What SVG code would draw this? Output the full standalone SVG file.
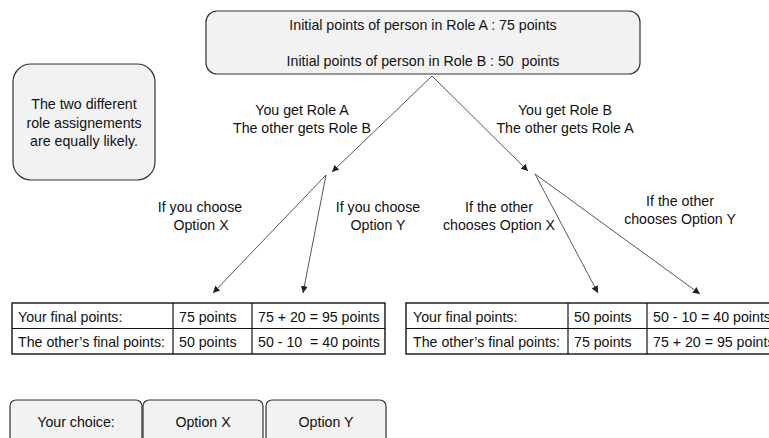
<svg xmlns="http://www.w3.org/2000/svg" width="769" height="438" viewBox="0 0 769 438">
<defs>
<marker id="ah" viewBox="0 0 10 10" refX="10" refY="5" markerWidth="7" markerHeight="7" markerUnits="userSpaceOnUse" orient="auto">
<path d="M0,0 L10,5 L0,10 z" fill="#222"/>
</marker>
<style>
text{font-family:"Liberation Sans",Arial,sans-serif;font-size:14.2px;fill:#111;white-space:pre}
.c{text-anchor:middle}
.box{fill:#f2f2f2;stroke:#333;stroke-width:1.2}
.arr{stroke:#444;stroke-width:0.9;fill:none;marker-end:url(#ah)}
.tb{fill:#fff;stroke:#111;stroke-width:1.4}
.tl{stroke:#111;stroke-width:1.2}
</style>
</defs>
<rect width="769" height="438" fill="#fff"/>
<g id="top">
<rect class="box" x="206" y="11" width="434" height="63" rx="11"/>
<text class="c" x="423" y="30" xml:space="preserve">Initial points of person in Role A : 75 points</text>
<text class="c" x="423" y="66" xml:space="preserve">Initial points of person in Role B : 50  points</text>
</g>
<g id="note">
<rect class="box" x="13" y="64" width="142" height="116" rx="18"/>
<text class="c" x="84" y="109">The two different</text>
<text class="c" x="84" y="128">role assignements</text>
<text class="c" x="84" y="146">are equally likely.</text>
</g>
<g id="connectors">
<line class="arr" x1="432" y1="76" x2="332" y2="172"/>
<line class="arr" x1="432" y1="76" x2="528" y2="171"/>
<line class="arr" x1="326" y1="175" x2="213" y2="293"/>
<line class="arr" x1="326" y1="175" x2="303" y2="293"/>
<line class="arr" x1="535" y1="174" x2="598" y2="293"/>
<line class="arr" x1="535" y1="174" x2="700" y2="294"/>
</g>
<g id="labels">
<text class="c" x="302" y="115">You get Role A</text>
<text class="c" x="302" y="133">The other gets Role B</text>
<text class="c" x="565" y="115">You get Role B</text>
<text class="c" x="565" y="133">The other gets Role A</text>
<text class="c" x="200" y="212">If you choose</text>
<text class="c" x="201" y="230">Option X</text>
<text class="c" x="378" y="212">If you choose</text>
<text class="c" x="378" y="230">Option Y</text>
<text class="c" x="499" y="212">If the other</text>
<text class="c" x="499" y="230">chooses Option X</text>
<text class="c" x="680" y="206">If the other</text>
<text class="c" x="680" y="224">chooses Option Y</text>
</g>
<g id="table-left">
<rect class="tb" x="12" y="303" width="373" height="51"/>
<line class="tl" x1="12" y1="328.5" x2="385" y2="328.5"/>
<line class="tl" x1="173" y1="303" x2="173" y2="354"/>
<line class="tl" x1="252" y1="303" x2="252" y2="354"/>
<text x="18" y="322">Your final points:</text>
<text x="18" y="347">The other’s final points:</text>
<text x="179" y="322">75 points</text>
<text x="179" y="347">50 points</text>
<text x="258" y="322">75 + 20 = 95 points</text>
<text x="258" y="347" xml:space="preserve">50 - 10  = 40 points</text>
</g>
<g id="table-right">
<rect class="tb" x="406" y="303" width="380" height="51"/>
<line class="tl" x1="406" y1="328.5" x2="786" y2="328.5"/>
<line class="tl" x1="568" y1="303" x2="568" y2="354"/>
<line class="tl" x1="647" y1="303" x2="647" y2="354"/>
<text x="413" y="322">Your final points:</text>
<text x="413" y="347">The other’s final points:</text>
<text x="574" y="322">50 points</text>
<text x="574" y="347">75 points</text>
<text x="653" y="322">50 - 10 = 40 points</text>
<text x="653" y="347">75 + 20 = 95 points</text>
</g>
<g id="btn-choice">
<rect class="box" x="10" y="400" width="132" height="50" rx="6"/>
<text class="c" x="76" y="427">Your choice:</text>
</g>
<g id="btn-x">
<rect class="box" x="143" y="400" width="120" height="50" rx="6"/>
<text class="c" x="203" y="427">Option X</text>
</g>
<g id="btn-y">
<rect class="box" x="266" y="400" width="120" height="50" rx="6"/>
<text class="c" x="326" y="427">Option Y</text>
</g>
</svg>
